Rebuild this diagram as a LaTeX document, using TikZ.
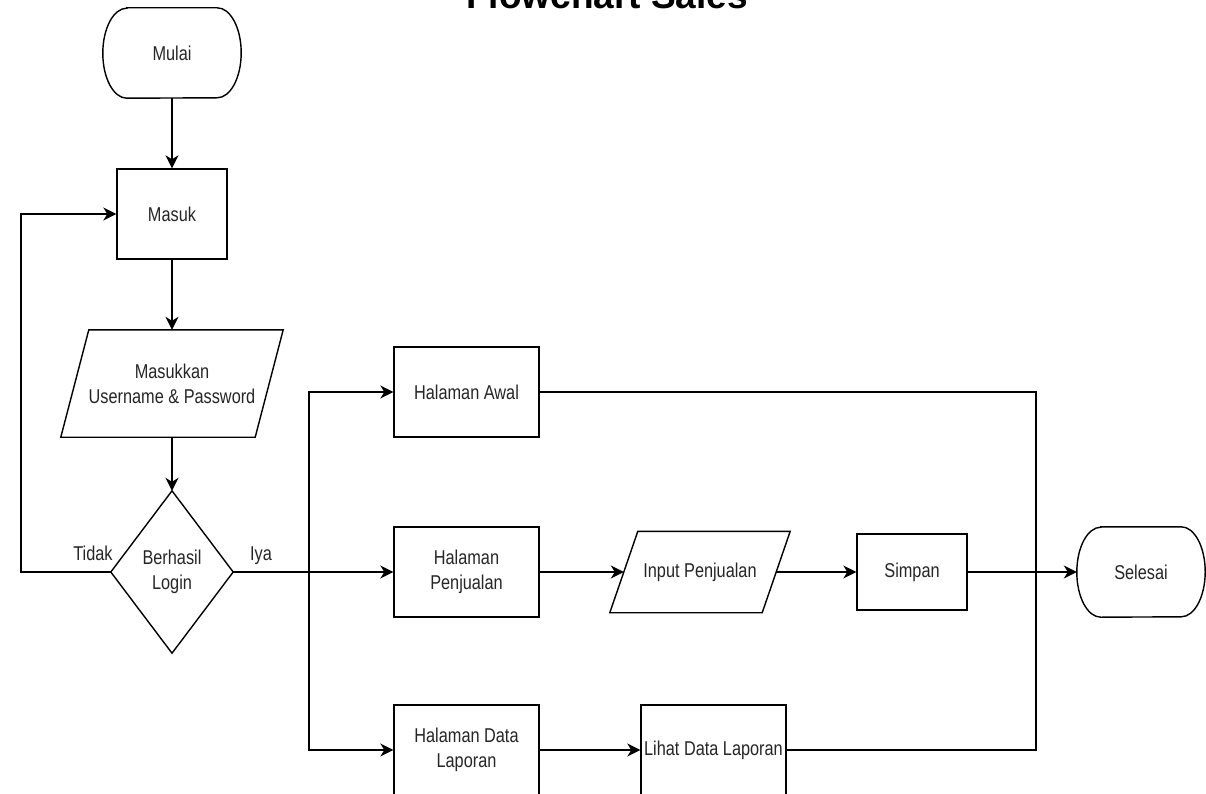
\documentclass[tikz,border=0pt]{standalone}
\usepackage{fontspec}
\setmainfont{Liberation Sans}[FakeStretch=0.815]
\newfontfamily\titlefont{Liberation Sans}
\usetikzlibrary{arrows.meta,calc}
\tikzset{
  line/.style={line width=1.4pt, draw=black},
  arr/.style={line, -{Stealth[length=13pt,width=13pt,inset=4pt]}},
  txt/.style={font=\fontsize{20}{25}\selectfont, text=black!85},
  box/.style={txt, draw, line width=1.4pt, minimum width=145pt, minimum height=90pt, inner sep=0pt, align=center},
  shapebox/.style={txt, draw=none, inner sep=0pt, align=center},
  term/.style={shapebox, minimum width=138pt, minimum height=90pt},
  lbl/.style={txt, anchor=base, inner sep=0pt},
}
\newcommand\termshape[1]{\draw[line] ([xshift=24pt]#1.north west) -- ([xshift=-24pt]#1.north east) arc[start angle=90,end angle=-90,x radius=24pt,y radius=45pt] -- ([xshift=24pt]#1.south west) arc[start angle=270,end angle=90,x radius=24pt,y radius=45pt] -- cycle;}
\newcommand\parashape[2]{\draw[line] ([xshift=#2]#1.north west) -- ([xshift=#2]#1.north east) -- ([xshift=-#2]#1.south east) -- ([xshift=-#2]#1.south west) -- cycle;}
\newcommand\diamondshape[1]{\draw[line] (#1.north) -- (#1.east) -- (#1.south) -- (#1.west) -- cycle;}
\begin{document}
\begin{tikzpicture}[x=1pt,y=-1pt]
\fill[white] (0,0) rectangle (1206,794);
\useasboundingbox (0,0) rectangle (1206,794);

\node[anchor=base, inner sep=0pt, font=\titlefont\bfseries\fontsize{37}{40}\selectfont] (title) at (607,9) {Flowchart Sales};

\node[term] (mulai) at (172,53) {Mulai};
\termshape{mulai}
\node[box, minimum width=110pt] (masuk) at (172,214) {Masuk};
\node[shapebox, minimum width=194pt, minimum height=107pt] (input1) at (172,383.5) {Masukkan\\Username \& Password};
\parashape{input1}{14pt}
\node[shapebox, minimum width=122pt, minimum height=162pt] (cek) at (172,572) {Berhasil\\Login};
\diamondshape{cek}

\node[box] (awal) at (466.5,392) {Halaman Awal};
\node[box] (jual) at (466.5,572) {Halaman\\Penjualan};
\node[box] (lapor) at (466.5,750) {Halaman Data\\Laporan};
\node[shapebox, minimum width=152pt, minimum height=81pt] (inputj) at (700,572) {Input Penjualan};
\parashape{inputj}{14pt}
\node[box, minimum width=110pt, minimum height=76pt] (simpan) at (912,572) {Simpan};
\node[box] (lihat) at (713.5,750) {Lihat Data Laporan};
\node[term, minimum width=128pt] (selesai) at (1141,572) {Selesai};
\termshape{selesai}

\coordinate (busMid) at (309,572);
\coordinate (loopBot) at (21,572);
\coordinate (loopTop) at (21,214);
\coordinate (rTop) at (1036,392);
\coordinate (rBot) at (1036,750);

\draw[arr] (mulai.south) -- (masuk.north);
\draw[arr] (masuk.south) -- (input1.north);
\draw[arr] (input1.south) -- (cek.north);
\draw[arr] (cek.west) -- (loopBot) -- (loopTop) -- (masuk.west);
\draw[arr] (cek.east) -- (jual.west);
\draw[arr] (busMid) |- (awal.west);
\draw[arr] (busMid) |- (lapor.west);
\draw[arr] (jual.east) -- (inputj.west);
\draw[arr] (inputj.east) -- (simpan.west);
\draw[arr] (simpan.east) -- (selesai.west);
\draw[arr] (lapor.east) -- (lihat.west);
\draw[line] (awal.east) -- (rTop) -- (rBot) -- (lihat.east);

\node[lbl] (tidak) at (93,560) {Tidak};
\node[lbl] (iya) at (261,560) {Iya};
\end{tikzpicture}
\end{document}
